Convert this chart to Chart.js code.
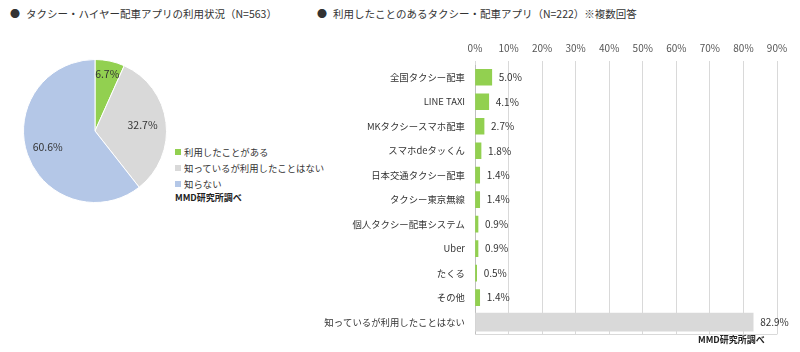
<!DOCTYPE html>
<html>
<head>
<meta charset="utf-8">
<script src="https://cdn.jsdelivr.net/npm/chart.js@4/dist/chart.umd.min.js"></script>
<style>
  body { margin: 0; width: 800px; height: 352px; background: #fff; position: relative; overflow: hidden;
         font-family: "Noto Sans CJK JP", sans-serif; color: #333; }
  .title { position: absolute; top: 6px; font-size: 10.5px; white-space: nowrap; }
  .title b { font-weight: normal; font-size: 10px; margin-right: 6px; }
  #pieWrap { position: absolute; left: 23px; top: 59px; width: 144px; height: 144px; }
  #barWrap { position: absolute; left: 300px; top: 35px; width: 500px; height: 315px; }
  #pieLegend { position: absolute; left: 175px; top: 144px; font-size: 9.4px; line-height: 16px; }
  #pieLegend span.sw { display: inline-block; width: 6px; height: 6px; margin-right: 3px; vertical-align: 1px; }
  .credit { position: absolute; font-size: 9px; font-weight: bold; color: #222; }
</style>
</head>
<body>
<div class="title" style="left:10px"><b>●</b>タクシー・ハイヤー配車アプリの利用状況（N=563）</div>
<div class="title" style="left:317px"><b>●</b>利用したことのあるタクシー・配車アプリ（N=222）※複数回答</div>
<div id="pieWrap"><canvas id="pie"></canvas></div>
<div id="pieLegend"></div>
<div class="credit" style="left:175px; top:191px">MMD研究所調べ</div>
<div id="barWrap"><canvas id="bar"></canvas></div>
<div class="credit" style="left:698px; top:333px">MMD研究所調べ</div>
<script>
// pie: usage status
const pieLabels = ["利用したことがある", "知っているが利用したことはない", "知らない"];
const pieValues = [6.7, 32.7, 60.6];
const pieColors = ["#92D050", "#D9D9D9", "#B4C7E7"];
const pieLabelRadius = [0.82, 0.67, 0.70];

// bar: apps used (last row is the "known but never used" group, drawn in gray)
const appLabels = ["全国タクシー配車", "LINE TAXI", "MKタクシースマホ配車", "スマホdeタッくん", "日本交通タクシー配車",
  "タクシー東京無線", "個人タクシー配車システム", "Uber", "たくる", "その他", "知っているが利用したことはない"];
const appValues = [5.0, 4.1, 2.7, 1.8, 1.4, 1.4, 0.9, 0.9, 0.5, 1.4, 82.9];
const usedValues = appValues.map((v, i) => i < appValues.length - 1 ? v : null);
const notUsedValues = appValues.map((v, i) => i === appValues.length - 1 ? v : null);

const FONT = "'Noto Sans CJK JP', sans-serif";

// legend for pie
const legend = document.getElementById("pieLegend");
pieLabels.forEach((l, i) => {
    const row = document.createElement("div");
    row.innerHTML = `<span class="sw" style="background:${pieColors[i]}"></span>${l}`;
    legend.appendChild(row);
});

const pieLabelPlugin = {
    id: "pieLabels",
    afterDatasetsDraw(chart) {
        const ctx = chart.ctx;
        const meta = chart.getDatasetMeta(0);
        ctx.save();
        ctx.font = "10.5px " + FONT;
        ctx.fillStyle = "#333";
        ctx.textAlign = "center";
        ctx.textBaseline = "middle";
        meta.data.forEach((arc, i) => {
            const mid = (arc.startAngle + arc.endAngle) / 2;
            const r = arc.outerRadius * pieLabelRadius[i];
            ctx.fillText(pieValues[i].toFixed(1) + "%", arc.x + Math.cos(mid) * r, arc.y + Math.sin(mid) * r);
        });
        ctx.restore();
    }
};

new Chart(document.getElementById("pie"), {
    type: "pie",
    data: {
        labels: pieLabels,
        datasets: [{ data: pieValues, backgroundColor: pieColors, borderColor: "#fff", borderWidth: 1 }]
    },
    options: {
        responsive: true,
        maintainAspectRatio: false,
        animation: false,
        plugins: { legend: { display: false }, tooltip: { enabled: false } }
    },
    plugins: [pieLabelPlugin]
});

const barLabelPlugin = {
    id: "barLabels",
    afterDatasetsDraw(chart) {
        const ctx = chart.ctx;
        const area = chart.chartArea;
        ctx.save();
        // bottom frame line
        ctx.strokeStyle = "#D9D9D9";
        ctx.lineWidth = 1;
        ctx.beginPath();
        ctx.moveTo(area.left, Math.round(area.bottom) + 0.5);
        ctx.lineTo(area.right, Math.round(area.bottom) + 0.5);
        ctx.stroke();

        ctx.font = "10px " + FONT;
        ctx.fillStyle = "#333";
        ctx.textAlign = "left";
        ctx.textBaseline = "middle";
        chart.data.datasets.forEach((ds, d) => {
            chart.getDatasetMeta(d).data.forEach((bar, i) => {
                if (ds.data[i] == null) return;
                ctx.fillText(ds.data[i].toFixed(1) + "%", bar.x + 7, bar.y);
            });
        });
        ctx.restore();
    }
};

new Chart(document.getElementById("bar"), {
    type: "bar",
    data: {
        labels: appLabels,
        datasets: [
            { data: usedValues, backgroundColor: "#92D050", barThickness: 16 },
            { data: notUsedValues, backgroundColor: "#D9D9D9", barThickness: 18 }
        ]
    },
    options: {
        indexAxis: "y",
        responsive: true,
        maintainAspectRatio: false,
        animation: false,
        layout: { padding: { right: 23 } },
        plugins: { legend: { display: false }, tooltip: { enabled: false } },
        scales: {
            x: {
                position: "top",
                min: 0,
                max: 90,
                ticks: { stepSize: 10, callback: v => v + "%", color: "#555", font: { size: 10, family: FONT }, padding: 7 },
                grid: { color: "#D9D9D9", drawTicks: true, tickLength: 4 },
                border: { display: false }
            },
            y: {
                stacked: true,
                ticks: { color: "#333", font: { size: 9.4, family: FONT }, padding: 10 },
                grid: { display: false, drawTicks: false },
                border: { color: "#BFBFBF" },
                afterFit(scale) { scale.width = 175; }
            }
        }
    },
    plugins: [barLabelPlugin]
});
</script>
</body>
</html>
